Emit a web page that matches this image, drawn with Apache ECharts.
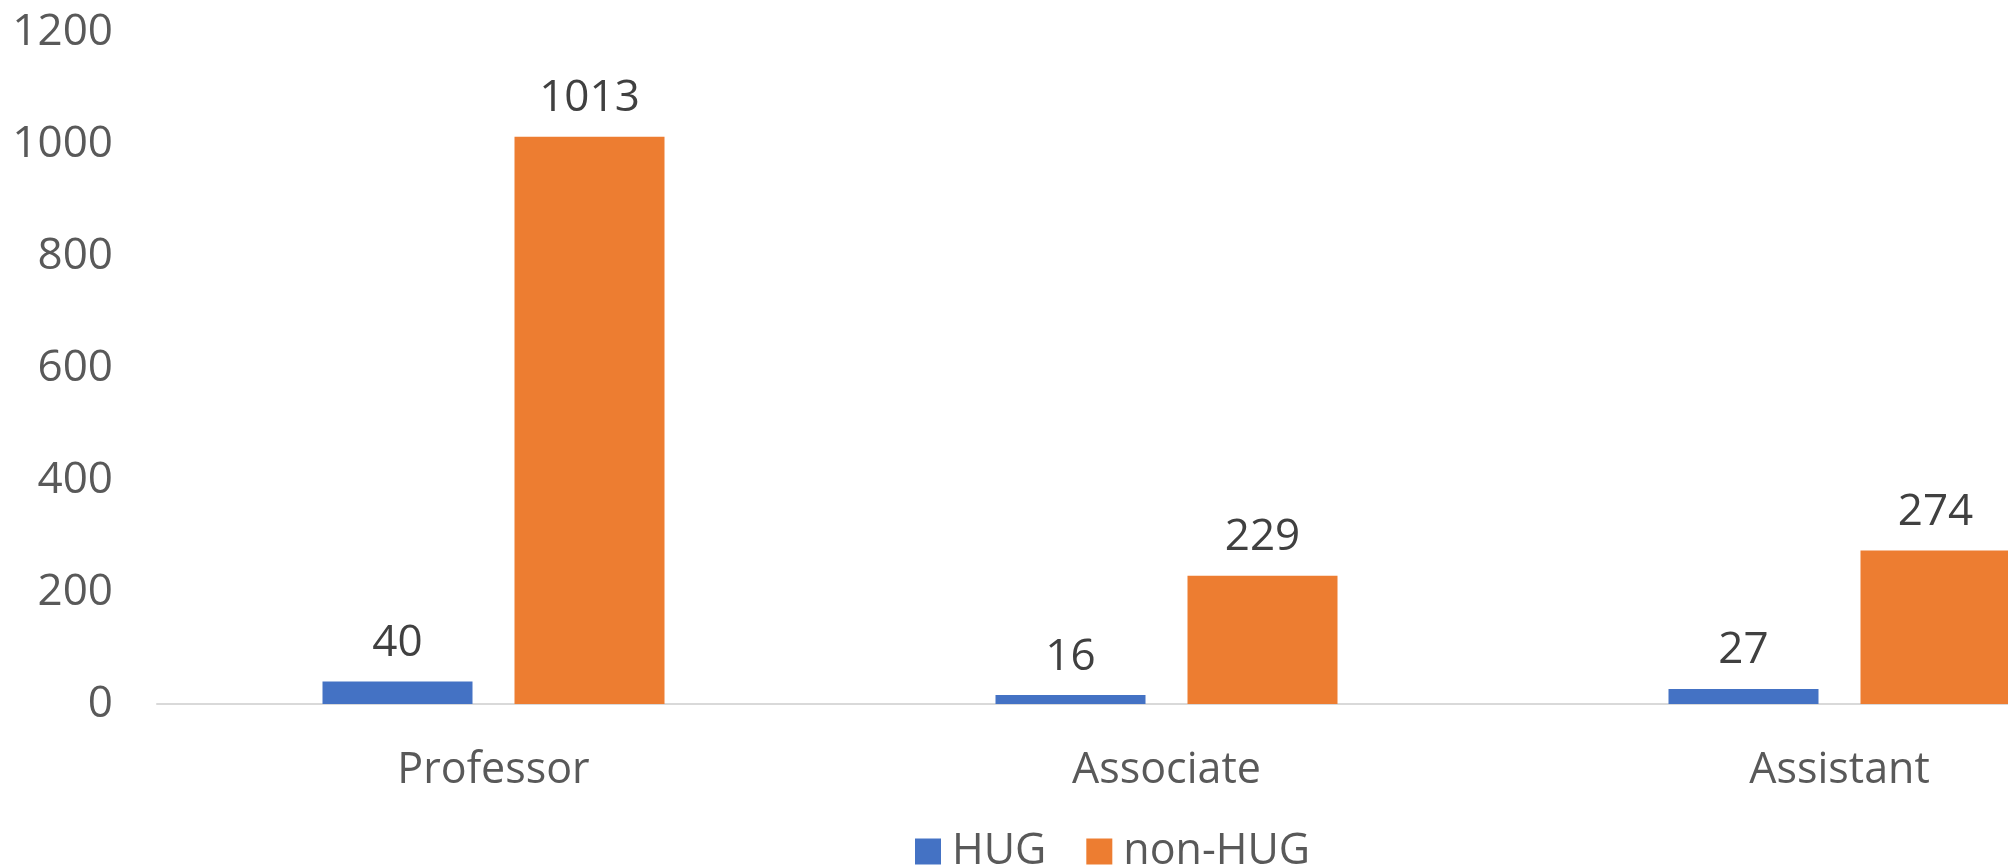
<!DOCTYPE html>
<html>
<head>
<meta charset="utf-8">
<script src="https://cdn.jsdelivr.net/npm/echarts@6/dist/echarts.min.js"></script>
<style>html,body{margin:0;padding:0;background:#fff;overflow:hidden}#c{width:2176px;height:866px}</style>
</head>
<body>
<div id="c"></div>
<script>
const categories = ['Professor', 'Associate', 'Assistant'];
const hugValues = [40, 16, 27];
const nonHugValues = [1013, 229, 274];
const seriesNames = ['HUG', 'non-HUG'];
const yTicks = { min: 0, max: 1200, interval: 200 };

const FONT = '"Open Sans", "Noto Sans", sans-serif';
const chart = echarts.init(document.getElementById('c'), null, { renderer: 'canvas' });
const labelStyle = { show: true, position: 'top', distance: 16, color: '#404040', fontSize: 44, fontFamily: FONT };
chart.setOption({
  animation: false,
  backgroundColor: '#ffffff',
  grid: { left: 157, top: 32, right: 0, height: 672, containLabel: false },
  legend: {
    left: 910, top: 825,
    itemWidth: 26, itemHeight: 26, itemGap: 40,
    icon: 'rect',
    textStyle: { color: '#595959', fontSize: 43, fontFamily: FONT, padding: [0, 0, 0, 6] },
    data: seriesNames
  },
  xAxis: {
    type: 'category',
    data: categories,
    axisLine: { lineStyle: { color: '#D9D9D9', width: 2 } },
    axisTick: { show: false },
    axisLabel: { color: '#595959', fontSize: 43, fontFamily: FONT, margin: 45 }
  },
  yAxis: {
    type: 'value',
    min: yTicks.min, max: yTicks.max, interval: yTicks.interval,
    splitLine: { show: false },
    axisLine: { show: false },
    axisTick: { show: false },
    axisLabel: { color: '#595959', fontSize: 44, fontFamily: FONT, margin: 44,
      formatter: v => String(v) }
  },
  series: [
    { name: seriesNames[0], type: 'bar', data: hugValues, barWidth: 150, barGap: '28%',
      itemStyle: { color: '#4472C4' }, label: labelStyle },
    { name: seriesNames[1], type: 'bar', data: nonHugValues, barWidth: 150, barGap: '28%',
      itemStyle: { color: '#ED7D31' }, label: labelStyle }
  ]
});
</script>
</body>
</html>
